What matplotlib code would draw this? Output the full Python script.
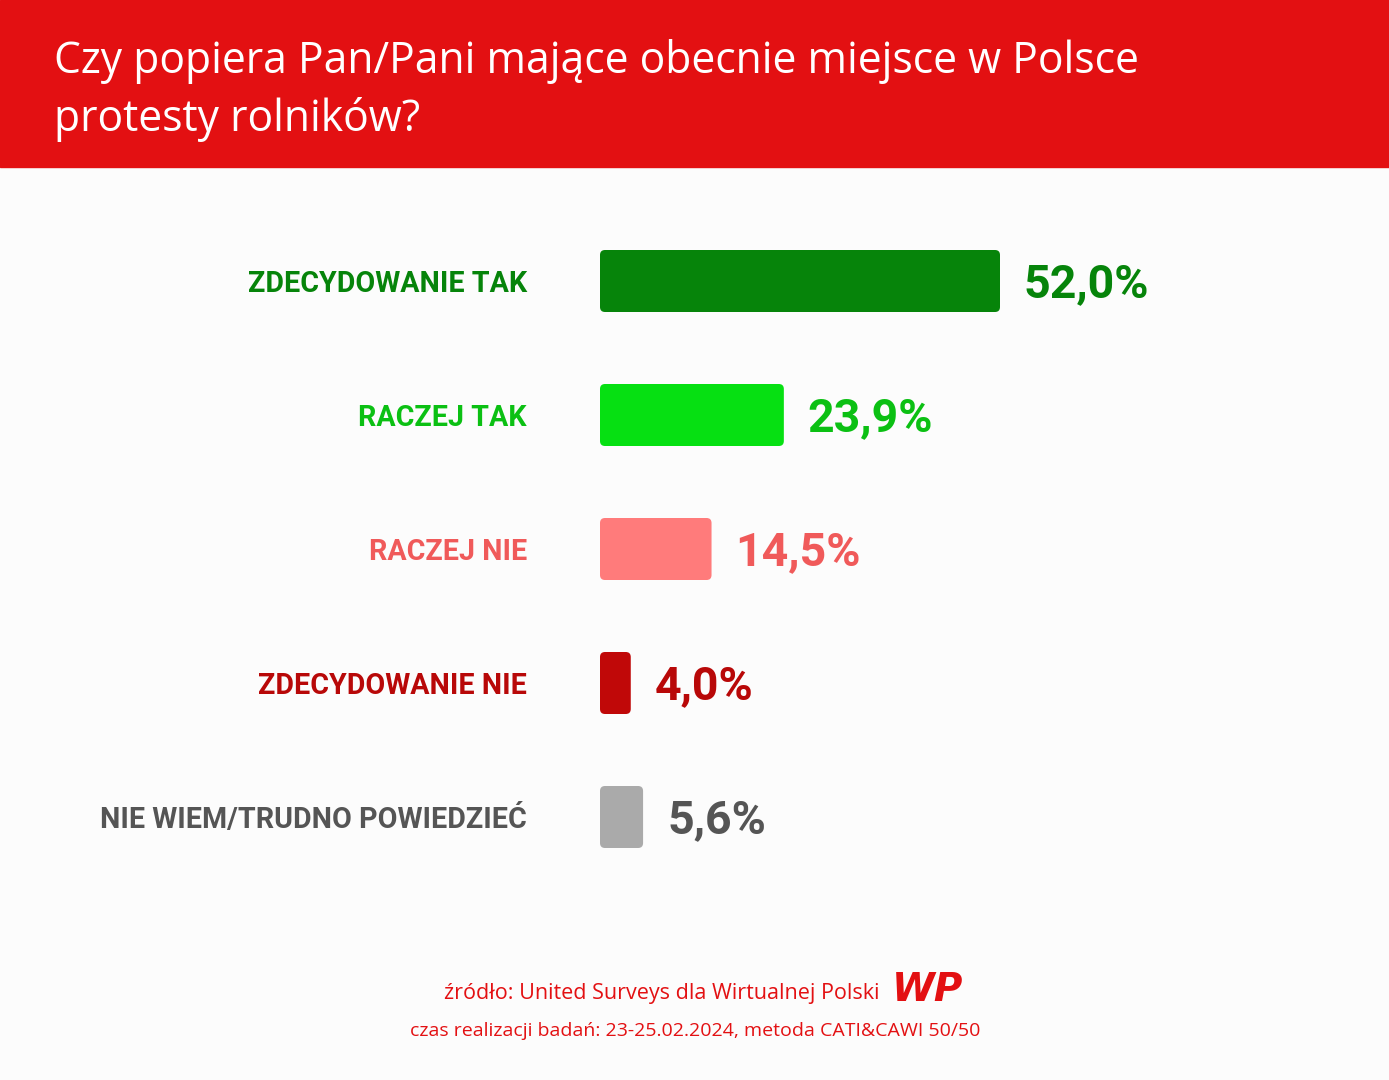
import matplotlib
matplotlib.use("Agg")
import matplotlib.pyplot as plt
from matplotlib.patches import FancyBboxPatch, Rectangle

categories = ["ZDECYDOWANIE TAK", "RACZEJ TAK", "RACZEJ NIE", "ZDECYDOWANIE NIE", "NIE WIEM/TRUDNO POWIEDZIEĆ"]
values = [52.0, 23.9, 14.5, 4.0, 5.6]
value_labels = ["52,0%", "23,9%", "14,5%", "4,0%", "5,6%"]
bar_colors = ["#06840A", "#06E012", "#FF7B7B", "#C00808", "#AAAAAA"]
text_colors = ["#06840A", "#0BC013", "#F05A5A", "#B80808", "#555555"]

W, H = 1389, 1080
fig = plt.figure(figsize=(W/100, H/100), dpi=100, facecolor="#FCFCFC")

fig.patches.append(Rectangle((0, 1-167/H), 1, 167/H, transform=fig.transFigure, color="#E31012", zorder=0))
fig.text(54/W, 1-62/H, "Czy popiera Pan/Pani mające obecnie miejsce w Polsce", color="white",
         fontsize=30.7, family="Open Sans", va="center", ha="left")
fig.text(54/W, 1-119/H, "protesty rolników?", color="white",
         fontsize=30.7, family="Open Sans", va="center", ha="left")

pxu = 400/52.0
left_px, right_px = 600, 1389
top_px, bot_px = 214, 884
ax = fig.add_axes([left_px/W, 1-bot_px/H, (right_px-left_px)/W, (bot_px-top_px)/H])
ax.set_xlim(0, (right_px-left_px)/pxu)
ax.set_ylim(4.5, -0.5)
ax.axis("off")

bh = 62/134
r = 5/pxu
for i, (v, c) in enumerate(zip(values, bar_colors)):
    p = FancyBboxPatch((0, i-bh/2), v, bh, boxstyle=f"round,pad=0,rounding_size={r}",
                       mutation_aspect=(5/134)/r, facecolor=c, edgecolor="none")
    ax.add_patch(p)
    ax.text(v + 24/pxu, i + 0.02, value_labels[i], color=text_colors[i], fontsize=33.5,
            fontweight="bold", family="Roboto", va="center", ha="left")
    ax.text(-73/pxu, i + 0.02, categories[i], color=text_colors[i], fontsize=20.6,
            fontweight="bold", family="Roboto", va="center", ha="right", clip_on=False)

fig.text(880/W, 1-993/H, "źródło: United Surveys dla Wirtualnej Polski", color="#E31012",
         fontsize=15.5, family="Open Sans", va="center", ha="right")
fig.text(928/W, 1-990/H, "WP", color="#E31012", fontsize=28, fontweight="bold", style="italic",
         family="DejaVu Sans", va="center", ha="center")
fig.text(695/W, 1-1031/H, "czas realizacji badań: 23-25.02.2024, metoda CATI&CAWI 50/50", color="#E31012",
         fontsize=14, family="Open Sans", va="center", ha="center")

fig.savefig("out.png", dpi=100, facecolor=fig.get_facecolor())
